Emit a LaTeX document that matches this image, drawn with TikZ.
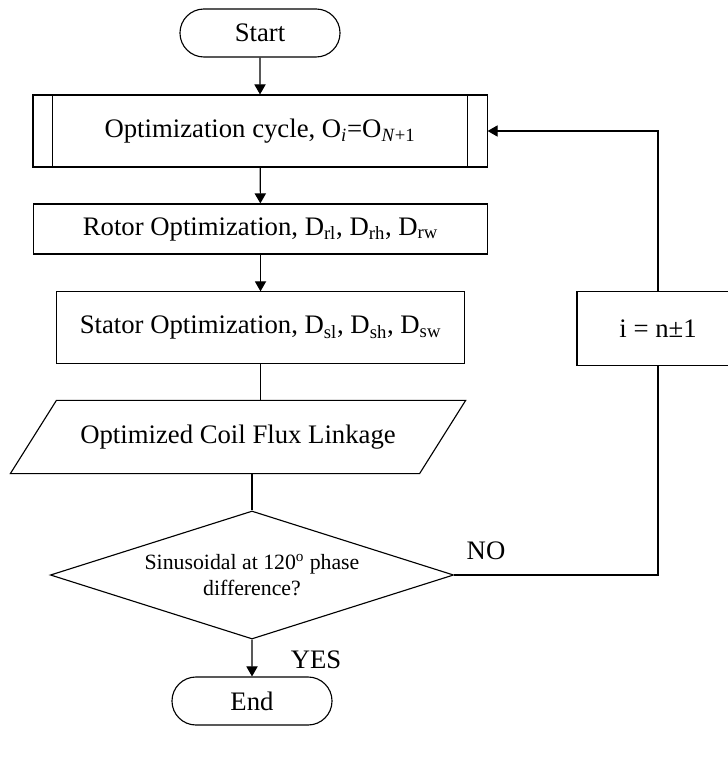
\documentclass[tikz,border=0pt]{standalone}
\usepackage{fontspec}
\setmainfont{Liberation Serif}
\usetikzlibrary{positioning}
\usetikzlibrary{shapes.geometric, shapes.misc}
\usetikzlibrary{arrows.meta}

\begin{document}
\begin{tikzpicture}[x=0.025cm, y=-0.025cm, line width=0.8pt,
        every node/.style={font=\fontsize{19}{22}\selectfont},
        terminal/.style={draw, rounded rectangle, minimum width=4cm, minimum height=1.2cm, inner sep=0pt},
        process/.style={draw, rectangle, inner sep=0pt},
        flow/.style={-{Triangle[length=0.25cm, width=0.28cm]}}]
        \useasboundingbox (0,0) rectangle (728,774);
        % Main column
        \node[terminal] (start) at (260,33) {Start};
        \node[process, minimum width=11.35cm, minimum height=1.8cm] (cycle) at (260,131)
            {Optimization cycle, O\textsubscript{\textit{i}}=O\textsubscript{\textit{N}+1}};
        \draw ([xshift=0.5cm]cycle.north west) -- ([xshift=0.5cm]cycle.south west);
        \draw ([xshift=-0.5cm]cycle.north east) -- ([xshift=-0.5cm]cycle.south east);
        \node[process, minimum width=11.33cm, minimum height=1.25cm] (rotor) at (260.5,229)
            {Rotor Optimization, D\textsubscript{rl}, D\textsubscript{rh}, D\textsubscript{rw}};
        \node[process, minimum width=10.18cm, minimum height=1.78cm] (stator) at (260.5,327.5)
            {Stator Optimization, D\textsubscript{sl}, D\textsubscript{sh}, D\textsubscript{sw}};
        % Parallelogram for the output
        \node[minimum width=11.35cm, minimum height=1.8cm, inner sep=0pt] (flux) at (238,437)
            {Optimized Coil Flux Linkage};
        \draw ([xshift=1.15cm]flux.north west) -- (flux.north east)
            -- ([xshift=-1.15cm]flux.south east) -- (flux.south west) -- cycle;
        \node[draw, diamond, aspect=3.15, minimum width=10.08cm, minimum height=3.2cm, inner sep=0pt,
              align=center, font=\fontsize{15.5}{19}\selectfont]
            (check) at (252,575) {Sinusoidal at 120\textsuperscript{o} phase\\difference?};
        \node[terminal] (end) at (252,701) {End};
        % Feedback branch
        \node[process, minimum width=4.05cm, minimum height=1.83cm] (incr) at (658,328.5) {i = n±1};
        % Connectors
        \draw[flow] (start) -- (cycle);
        \draw[flow] (cycle) -- (rotor);
        \draw[flow] (rotor) -- (stator);
        \draw (stator.south) -- (stator.south |- flux.north);
        \draw (check.north |- flux.south) -- (check.north);
        \draw[flow] (check) -- (end);
        \draw (check.east) -| (incr.south);
        \draw[flow] (incr.north) |- (cycle.east);
        % Branch labels
        \node (no) at (486,551) {NO};
        \node (yes) at (316,660) {YES};
\end{tikzpicture}
\end{document}
